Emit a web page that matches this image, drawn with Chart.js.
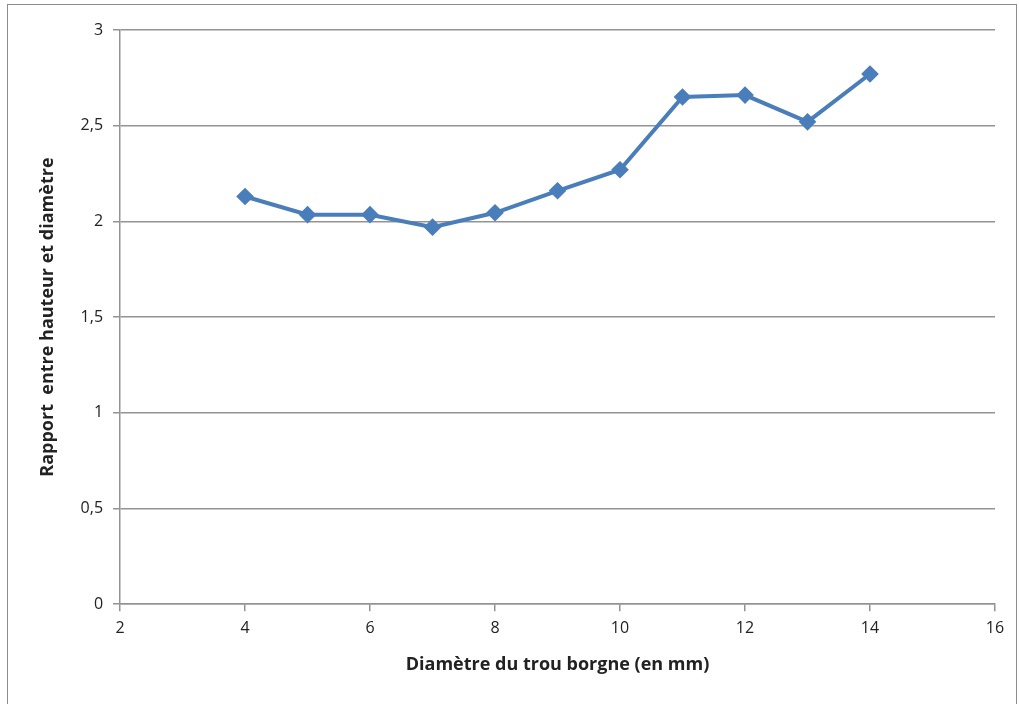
<!DOCTYPE html>
<html>
<head>
<meta charset="utf-8">
<script src="https://cdn.jsdelivr.net/npm/chart.js@4.4.1/dist/chart.umd.min.js"></script>
<style>
  body { margin: 0; background: #fff; }
  #cadre {
    position: absolute; left: 7px; top: 4px;
    width: 1010px; height: 710px;
    border: 1px solid #8c8c8c; box-sizing: border-box;
  }
  #wrap { position: absolute; left: 0; top: 0; width: 1019px; height: 704px; }
</style>
</head>
<body>
<div id="cadre"></div>
<div id="wrap"><canvas id="graphe"></canvas></div>
<script>
// Données
const diametres = [4, 5, 6, 7, 8, 9, 10, 11, 12, 13, 14];
const rapports = [2.13, 2.035, 2.035, 1.97, 2.045, 2.16, 2.27, 2.65, 2.66, 2.52, 2.77];

const xMin = 2, xMax = 16, xPas = 2;
const yMin = 0, yMax = 3, yPas = 0.5;

const gris = '#939393';
const bleu = '#4a7ebb';
const police = "'Open Sans', 'Noto Sans', sans-serif";

const points = diametres.map((d, i) => ({ x: d, y: rapports[i] }));

new Chart(document.getElementById('graphe'), {
  type: 'line',
  data: {
    datasets: [{
      data: points,
      borderColor: bleu,
      backgroundColor: bleu,
      borderWidth: 4,
      pointStyle: 'rectRot',
      pointRadius: 6,
      pointHoverRadius: 6,
      tension: 0
    }]
  },
  options: {
    responsive: true,
    maintainAspectRatio: false,
    animation: false,
    layout: { padding: { left: 33, right: 24, top: 30, bottom: 24 } },
    plugins: { legend: { display: false }, tooltip: { enabled: false } },
    scales: {
      x: {
        type: 'linear',
        min: xMin, max: xMax,
        ticks: { stepSize: xPas, color: '#222', font: { family: police, size: 16 }, padding: 8 },
        grid: { drawOnChartArea: false, drawTicks: true, tickLength: 7, color: gris, lineWidth: 1.5 },
        border: { display: true, color: gris, width: 1.5 },
        title: {
          display: true,
          text: 'Diamètre du trou borgne (en mm)',
          color: '#222',
          font: { family: police, size: 18, weight: 'bold' },
          padding: { top: 8 }
        }
      },
      y: {
        min: yMin, max: yMax,
        ticks: {
          stepSize: yPas, color: '#222', font: { family: police, size: 16 }, padding: 10,
          callback: v => String(v).replace('.', ',')
        },
        grid: { drawTicks: true, tickLength: 7, color: gris, lineWidth: 1.5 },
        border: { display: true, color: gris, width: 1.5 },
        title: {
          display: true,
          text: 'Rapport  entre hauteur et diamètre',
          color: '#222',
          font: { family: police, size: 18, weight: 'bold' },
          padding: { bottom: 12 }
        }
      }
    }
  }
});
</script>
</body>
</html>
